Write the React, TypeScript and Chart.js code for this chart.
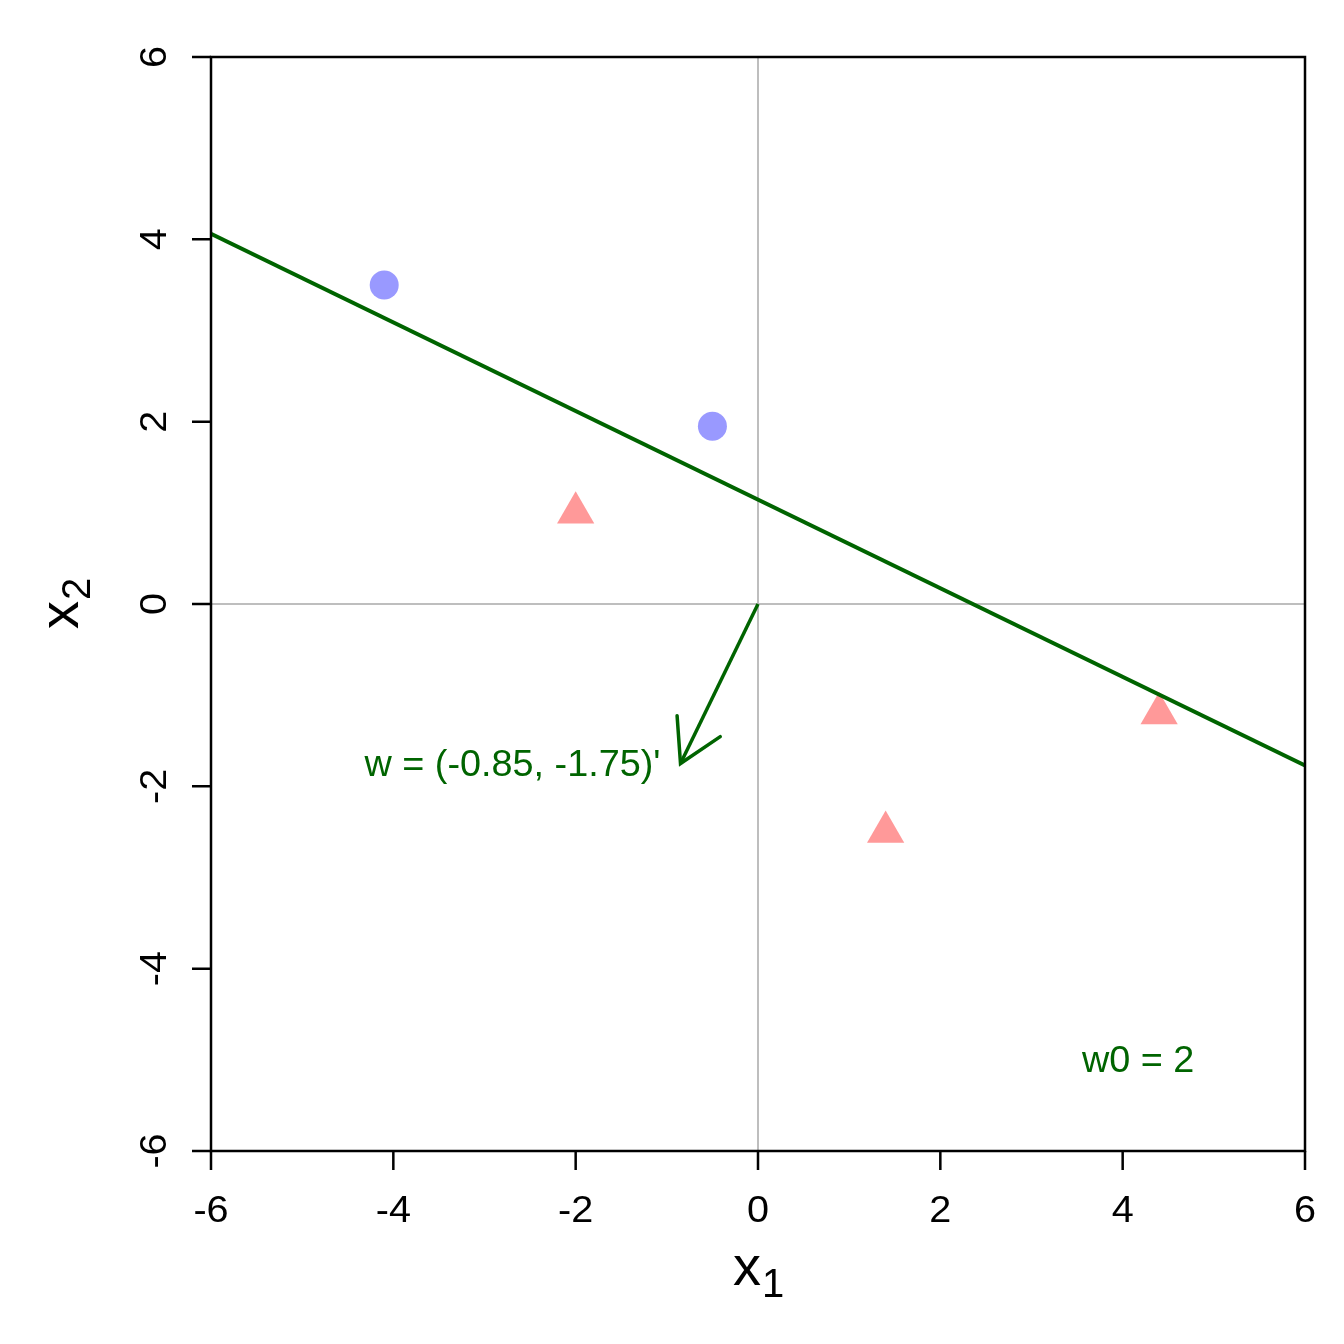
import React, { useEffect, useRef } from "react";
import { Chart, registerables } from "chart.js";

Chart.register(...registerables);

// ---- data ----
const xTicks = [-6, -4, -2, 0, 2, 4, 6];
const yTicks = [-6, -4, -2, 0, 2, 4, 6];
const blueX = [-4.1, -0.5];
const blueY = [3.5, 1.95];
const redX = [-2.0, 1.4, 4.4];
const redY = [1.0, -2.5, -1.2];
const boundaryX = [-6, 6];
const boundaryY = [4.06, -1.77];
const arrowX = [0, -0.85];
const arrowY = [0, -1.75];
const wLabel = "w = (-0.85, -1.75)'";
const w0Label = "w0 = 2";
const w0Pos = [4.17, -5];
const xTitle = ["x", "1"];
const yTitle = ["x", "2"];

const FONT = '"Liberation Sans", Arial, sans-serif';
const GREEN = "#006400";

function toXY(xs: number[], ys: number[]) {
  return xs.map((v, i) => ({ x: v, y: ys[i] }));
}

function stretchText(
  ctx: CanvasRenderingContext2D,
  text: string,
  x: number,
  y: number,
  font: string,
  sx: number,
  align: CanvasTextAlign,
  rot = 0
) {
  ctx.save();
  ctx.translate(x, y);
  if (rot) ctx.rotate(rot);
  ctx.scale(sx, 1);
  ctx.font = font;
  ctx.textAlign = align;
  ctx.textBaseline = "alphabetic";
  ctx.fillText(text, 0, 0);
  ctx.restore();
}

function drawSubTitle(
  ctx: CanvasRenderingContext2D,
  parts: string[],
  x: number,
  y: number,
  rot: number
) {
  ctx.save();
  ctx.translate(x, y);
  if (rot) ctx.rotate(rot);
  ctx.fillStyle = "#000";
  ctx.textBaseline = "alphabetic";
  ctx.textAlign = "left";
  ctx.font = `56px ${FONT}`;
  const w1 = ctx.measureText(parts[0]).width;
  ctx.font = `40px ${FONT}`;
  const w2 = ctx.measureText(parts[1]).width;
  const start = -(w1 + w2) / 2;
  ctx.font = `56px ${FONT}`;
  ctx.fillText(parts[0], start, 0);
  ctx.font = `40px ${FONT}`;
  ctx.fillText(parts[1], start + w1 + 1, 12);
  ctx.restore();
}

const rPlugin = {
  id: "rstyle",
  beforeDatasetsDraw(chart: any) {
    const { ctx, chartArea: a, scales } = chart;
    const x = scales.x;
    const y = scales.y;
    ctx.save();
    ctx.strokeStyle = "#BEBEBE";
    ctx.lineWidth = 2;
    const x0 = x.getPixelForValue(0);
    const y0 = y.getPixelForValue(0);
    ctx.beginPath();
    ctx.moveTo(x0, a.top);
    ctx.lineTo(x0, a.bottom);
    ctx.moveTo(a.left, y0);
    ctx.lineTo(a.right, y0);
    ctx.stroke();
    ctx.restore();
  },
  afterDatasetsDraw(chart: any) {
    const { ctx, scales } = chart;
    const x = scales.x;
    const y = scales.y;
    // arrow head
    const sx = x.getPixelForValue(arrowX[0]);
    const sy = y.getPixelForValue(arrowY[0]);
    const tx = x.getPixelForValue(arrowX[1]);
    const ty = y.getPixelForValue(arrowY[1]);
    const ang = Math.atan2(sy - ty, sx - tx);
    const len = 48;
    const spread = Math.PI / 6;
    ctx.save();
    ctx.strokeStyle = GREEN;
    ctx.lineWidth = 3.5;
    ctx.lineCap = "round";
    ctx.beginPath();
    ctx.moveTo(tx + len * Math.cos(ang + spread), ty + len * Math.sin(ang + spread));
    ctx.lineTo(tx, ty);
    ctx.lineTo(tx + len * Math.cos(ang - spread), ty + len * Math.sin(ang - spread));
    ctx.stroke();
    // annotations
    ctx.fillStyle = GREEN;
    stretchText(ctx, wLabel, tx - 20, ty + 12, `36px ${FONT}`, 1.05, "right");
    stretchText(
      ctx,
      w0Label,
      x.getPixelForValue(w0Pos[0]),
      y.getPixelForValue(w0Pos[1]) + 12,
      `36px ${FONT}`,
      1.05,
      "center"
    );
    ctx.restore();
  },
  afterDraw(chart: any) {
    const { ctx, chartArea: a, scales } = chart;
    const x = scales.x;
    const y = scales.y;
    ctx.save();
    ctx.strokeStyle = "#000";
    ctx.lineWidth = 2.5;
    ctx.strokeRect(a.left, a.top, a.right - a.left, a.bottom - a.top);
    ctx.beginPath();
    const tl = 19;
    xTicks.forEach((v) => {
      const px = x.getPixelForValue(v);
      ctx.moveTo(px, a.bottom);
      ctx.lineTo(px, a.bottom + tl);
    });
    yTicks.forEach((v) => {
      const py = y.getPixelForValue(v);
      ctx.moveTo(a.left, py);
      ctx.lineTo(a.left - tl, py);
    });
    ctx.stroke();
    ctx.fillStyle = "#000";
    xTicks.forEach((v) => {
      stretchText(ctx, String(v), x.getPixelForValue(v), a.bottom + 71, `37px ${FONT}`, 1.07, "center");
    });
    yTicks.forEach((v) => {
      stretchText(ctx, String(v), a.left - 45, y.getPixelForValue(v), `37px ${FONT}`, 1.07, "center", -Math.PI / 2);
    });
    drawSubTitle(ctx, xTitle, (a.left + a.right) / 2, a.bottom + 134, 0);
    drawSubTitle(ctx, yTitle, 78, (a.top + a.bottom) / 2, -Math.PI / 2);
    ctx.restore();
  },
};

export default function App() {
  const ref = useRef<HTMLCanvasElement | null>(null);
  useEffect(() => {
    if (!ref.current) return;
    const chart = new Chart(ref.current, {
      type: "scatter",
      data: {
        datasets: [
          {
            type: "line",
            data: toXY(boundaryX, boundaryY),
            borderColor: GREEN,
            borderWidth: 4,
            pointRadius: 0,
            fill: false,
            tension: 0,
          } as any,
          {
            type: "line",
            data: toXY(arrowX, arrowY),
            borderColor: GREEN,
            borderWidth: 3.5,
            pointRadius: 0,
            fill: false,
            tension: 0,
          } as any,
          {
            data: toXY(blueX, blueY),
            backgroundColor: "#9999FF",
            borderWidth: 0,
            pointRadius: 14.5,
            pointStyle: "circle",
          },
          {
            data: toXY(redX, redY),
            backgroundColor: "#FF9999",
            borderWidth: 0,
            pointRadius: 21.5,
            pointStyle: "triangle",
          },
        ],
      },
      options: {
        responsive: false,
        animation: false,
        devicePixelRatio: 1,
        layout: { padding: { left: 211, right: 39, top: 57, bottom: 193 } },
        plugins: { legend: { display: false }, tooltip: { enabled: false } },
        scales: {
          x: { type: "linear", min: -6, max: 6, display: false },
          y: { type: "linear", min: -6, max: 6, display: false },
        },
      },
      plugins: [rPlugin],
    });
    return () => chart.destroy();
  }, []);
  return (
    <div style={{ position: "absolute", left: 0, top: 0, width: 1344, height: 1344, background: "#fff" }}>
      <canvas ref={ref} width={1344} height={1344} />
    </div>
  );
}
